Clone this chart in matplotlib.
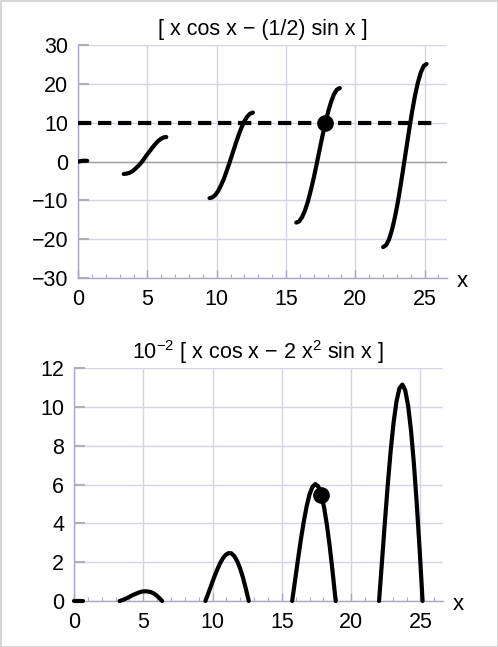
import numpy as np
import matplotlib
matplotlib.use("Agg")
import matplotlib.pyplot as plt
from matplotlib.ticker import MultipleLocator

plt.rcParams['font.family'] = ['Liberation Sans', 'DejaVu Sans']
plt.rcParams['mathtext.fontset'] = 'custom'
plt.rcParams['mathtext.rm'] = 'Liberation Sans'
plt.rcParams['mathtext.it'] = 'Liberation Sans'

# segments of the curve, x and both panel values
seg_x = [
    [0.0, 0.16, 0.33, 0.49, 0.65],
    [3.29, 3.5, 3.7, 3.91, 4.11, 4.32, 4.52, 4.72, 4.93, 5.13, 5.34, 5.54, 5.75, 5.95, 6.16, 6.36],
    [9.48, 9.69, 9.89, 10.1, 10.31, 10.52, 10.73, 10.94, 11.15, 11.35, 11.56, 11.77, 11.98, 12.19, 12.4, 12.61],
    [15.74, 15.95, 16.16, 16.37, 16.58, 16.79, 16.99, 17.2, 17.41, 17.62, 17.83, 18.04, 18.25, 18.46, 18.67, 18.88],
    [22.01, 22.22, 22.43, 22.64, 22.85, 23.06, 23.27, 23.48, 23.69, 23.9, 24.11, 24.32, 24.52, 24.73, 24.94, 25.15],
]
top_y = [
    [0.0, 0.1, 0.2, 0.2, 0.2],
    [-3.2, -3.1, -2.9, -2.5, -1.9, -1.2, -0.4, 0.5, 1.6, 2.5, 3.5, 4.4, 5.2, 5.8, 6.2, 6.3],
    [-9.4, -9.2, -8.6, -7.6, -6.1, -4.4, -2.3, -0.1, 2.2, 4.4, 6.6, 8.6, 10.3, 11.5, 12.3, 12.6],
    [-15.7, -15.4, -14.3, -12.6, -10.3, -7.4, -4.4, -0.9, 2.8, 6.4, 9.8, 12.8, 15.3, 17.3, 18.5, 18.9],
    [-22.0, -21.5, -20.1, -17.7, -14.5, -10.7, -6.2, -1.4, 3.5, 8.4, 13.0, 17.1, 20.3, 22.9, 24.6, 25.1],
]
bot_y = [
    [0.0, 0.0, 0.0, 0.0, 0.0],
    [0.0, 0.05, 0.11, 0.18, 0.26, 0.33, 0.39, 0.45, 0.49, 0.5, 0.49, 0.46, 0.39, 0.29, 0.15, 0.0],
    [0.0, 0.4, 0.79, 1.2, 1.58, 1.92, 2.19, 2.38, 2.47, 2.46, 2.32, 2.06, 1.69, 1.21, 0.63, 0.0],
    [0.0, 1.06, 2.14, 3.17, 4.1, 4.9, 5.49, 5.88, 6.03, 5.91, 5.51, 4.84, 3.91, 2.76, 1.43, 0.0],
    [0.0, 2.02, 4.07, 6.01, 7.76, 9.21, 10.3, 10.97, 11.16, 10.86, 10.05, 8.76, 7.12, 5.02, 2.63, 0.0],
]
target_x = [0, 26]
target_y = [10, 10]
dot_x = 17.85
dot_top = 10
dot_bot = 5.45

grid_c = '#d4d4e8'
spine_c = '#a8a8c4'

fig = plt.figure(figsize=(4.98, 6.47), dpi=100)
fig.patch.set_edgecolor('#d6d6d6')
fig.patch.set_linewidth(2)

ax1 = fig.add_axes([0.157, 0.570, 0.740, 0.3606])
ax2 = fig.add_axes([0.1486, 0.0711, 0.7403, 0.3597])

def style(ax, ymin, ymax, ystep):
    ax.set_xlim(0, 26.6)
    ax.set_ylim(ymin, ymax)
    ax.xaxis.set_major_locator(MultipleLocator(5))
    ax.xaxis.set_minor_locator(MultipleLocator(1))
    ax.yaxis.set_major_locator(MultipleLocator(ystep))
    ax.grid(True, which='major', color=grid_c, lw=1)
    ax.set_axisbelow(True)
    for s in ('top', 'right'):
        ax.spines[s].set_visible(False)
    for s in ('left', 'bottom'):
        ax.spines[s].set_color(spine_c)
        ax.spines[s].set_linewidth(1)
    ax.tick_params(which='major', direction='in', length=6, width=1, color=spine_c,
                   labelsize=15.5)
    ax.tick_params(axis='x', which='major', pad=8)
    ax.tick_params(axis='y', which='major', direction='in', length=8, width=1.5,
                   color='#b0b0b0', pad=7)
    ax.tick_params(which='minor', direction='in', length=3, width=0.8, color=spine_c)
    ax.tick_params(axis='y', which='minor', left=False)
    ax.annotate('x', xy=(1, 0), xycoords='axes fraction', xytext=(11, -2.5),
                textcoords='offset points', fontsize=16, ha='center', va='center')

style(ax1, -30, 30, 10)
ax1.axhline(0, color='#a0a0a0', lw=1, zorder=1)
for xs, ys in zip(seg_x, top_y):
    ax1.plot(xs, ys, color='black', lw=3, solid_capstyle='round', zorder=3)
ax1.plot(target_x, target_y, color='black', lw=3, dashes=(3.2, 1.6),
         dash_capstyle='butt', zorder=3)
ax1.plot([dot_x], [dot_top], 'o', color='black', ms=11, zorder=4)
ax1.set_title('[ x cos x \u2212 (1/2) sin x ]', fontsize=15.5, pad=7)

style(ax2, 0, 12, 2)
for xs, ys in zip(seg_x, bot_y):
    ax2.plot(xs, ys, color='black', lw=3, solid_capstyle='round', zorder=3, clip_on=False)
ax2.plot([dot_x], [dot_bot], 'o', color='black', ms=11, zorder=4)
ax2.set_title('$10^{\u22122}$ [ x cos x \u2212 2 x$^{2}$ sin x ]', fontsize=15.5, pad=7)

fig.savefig('out.png', dpi=100)
